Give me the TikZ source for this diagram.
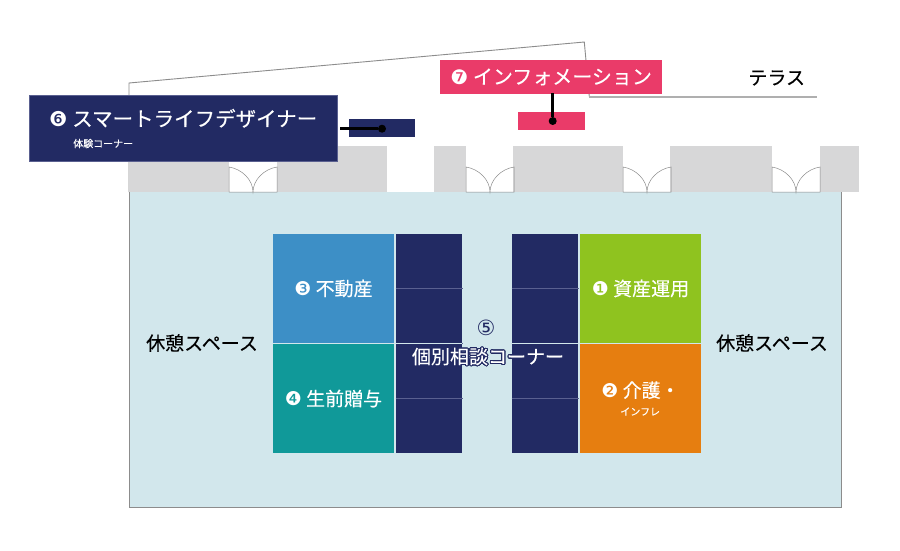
\documentclass[tikz,border=0pt]{standalone}
\usepackage{fontspec}
\usepackage[copies]{contour}
\setmainfont{Noto Sans CJK JP}[FakeBold=0.25]
\newfontfamily\numfont{DejaVu Sans}
\newfontfamily\plainjp{Noto Sans CJK JP}
\definecolor{navy}{HTML}{222A63}
\definecolor{pinkc}{HTML}{EA3B69}
\definecolor{greenc}{HTML}{8FC31F}
\definecolor{orangec}{HTML}{E67E10}
\definecolor{bluec}{HTML}{3D8FC6}
\definecolor{tealc}{HTML}{109999}
\definecolor{floorc}{HTML}{D2E7EC}
\definecolor{wallc}{HTML}{D7D7D8}
\definecolor{linec}{HTML}{8C8C8C}
\definecolor{divc}{HTML}{5A6090}
\newcommand{\fs}[1]{\fontsize{#1}{#1}\selectfont}
\newcommand{\cnum}[1]{{\numfont #1}}
\tikzset{
  block/.style={rectangle,inner sep=0pt,draw=none,text=white,align=center},
  wall/.style={fill=wallc,draw=none},
  doorline/.style={draw=linec,line width=0.5pt},
  outline/.style={draw=linec,line width=0.9pt},
  pin/.style={draw=black,line width=3pt},
  pindot/.style={circle,fill=black,inner sep=0pt,minimum size=8pt},
  divider/.style={draw=divc,line width=1pt},
  plainlabel/.style={inner sep=0pt,text=black},
}
\begin{document}
\begin{tikzpicture}[x=1pt,y=-1pt]
\useasboundingbox (0,0) rectangle (900,550);
\fill[white] (0,0) rectangle (900,550);
% building outline
\draw[outline] (129,192) -- (129,83) -- (584.3,42) -- (589.3,96.5);
\draw[draw=linec!70,line width=2pt] (589.3,96.7) -- (817.3,96.7);
% walls
\foreach \a/\b in {129/229,277/387.3,434/465.7,513/623,670/772.3,819.7/858.7}{
  \fill[wall] (\a,146) rectangle (\b,192);
}
% floor
\draw[fill=floorc,draw=linec,line width=0.9pt] (129,192) -- (129,507) -- (841,507) -- (841,192);
\fill[floorc] (129.5,192) rectangle (840.5,506.5);
% doors
\foreach \a in {229,466,623,772}{
  \begin{scope}[shift={(\a,0)}]
  \draw[doorline] (0,192) -- (0,167) .. controls (13,169) and (24,180) .. (24,192)
     .. controls (24,180) and (35,169) .. (48,167) -- (48,192) -- cycle;
  \end{scope}
}
% central blocks
\node[block,fill=bluec,minimum width=121.6pt,minimum height=109pt] (b3) at (333.5,288.5) {\fs{19}\cnum{❸} 不動産};
\node[block,fill=tealc,minimum width=121.6pt,minimum height=109pt] (b4) at (333.5,398.5) {\fs{19}\cnum{❹} 生前贈与};
\node[block,fill=navy,minimum width=66.6pt,minimum height=219pt] (n1) at (429,343.5) {};
\node[block,fill=navy,minimum width=66.6pt,minimum height=219pt] (n2) at (545,343.5) {};
\node[block,fill=greenc,minimum width=121.6pt,minimum height=109pt] (b1) at (640.5,288.5) {\fs{19}\cnum{❶} 資産運用};
\node[block,fill=orangec,minimum width=121.6pt,minimum height=109pt,align=left] (b2) at (640.5,398.5) {\fs{19}\cnum{❷} 介護・\\[6pt]\hspace*{19pt}インフレ};
\foreach \y in {288.3,343.3,398.3}{
  \draw[divider] (n1.west |- 0,\y) -- (n1.east |- 0,\y);
  \draw[divider] (n2.west |- 0,\y) -- (n2.east |- 0,\y);
}
\draw[draw=floorc,line width=1.4pt] (273,343.5) -- (462.3,343.5);
\draw[draw=floorc,line width=1.4pt] (511.7,343.5) -- (701.3,343.5);
\node[inner sep=0pt,text=navy] (five) at (486,328) {\fs{21}{\numfont ⑤}};
\contourlength{1pt}
\contournumber{32}
\node[inner sep=0pt,text=white] (c5) at (488,357) {\fs{19}\contour{navy}{個別相談コーナー}};
% rest labels
\node[plainlabel] (rest1) at (202,343) {\fs{19}休憩スペース};
\node[plainlabel] (rest2) at (772,343) {\fs{19}休憩スペース};
\node[plainlabel] (terrace) at (776.7,78) {\fs{19}テラス};
% booths
\node[block,fill=navy,minimum width=66.2pt,minimum height=17.4pt] (booth6) at (381.6,128) {};
\node[block,fill=pinkc,minimum width=67pt,minimum height=18.3pt] (booth7) at (551.2,121.2) {};
\node[pindot] (dot6) at (382,128.7) {};
\node[pindot] (dot7) at (552.7,121) {};
% callouts
\node[block,fill=navy,draw=divc,line width=0.5pt,minimum width=308.3pt,minimum height=66.4pt,align=left] (lab6) at (183.2,128.5) {\fs{20.5}\cnum{❻} スマートライフデザイナー\\[9pt]\hspace*{24pt}体験コーナー};
\node[block,fill=pinkc,minimum width=221.7pt,minimum height=33.7pt] (lab7) at (551.2,76.9) {\fs{20}\cnum{❼} インフォメーション};
\coordinate (start6) at ([xshift=2.5pt]lab6.east |- dot6);
\coordinate (start7) at ([yshift=1.2pt]dot7 |- lab7.south);
\draw[pin] (start6) -- (dot6);
\draw[pin] (start7) -- (dot7);
\end{tikzpicture}
\end{document}
